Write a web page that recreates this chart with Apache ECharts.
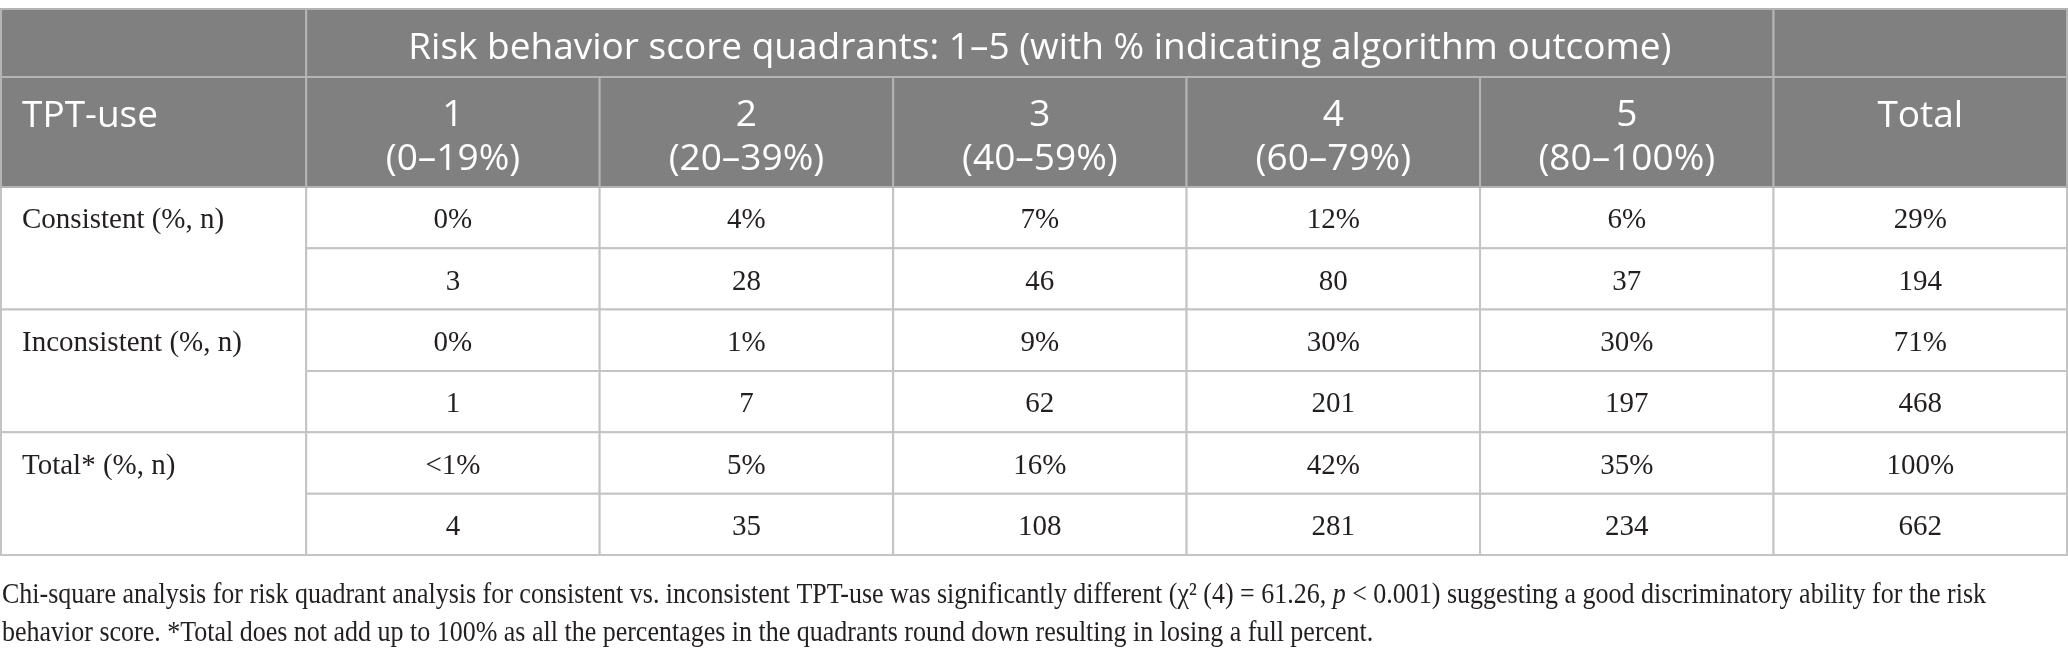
<!DOCTYPE html>
<html>
<head>
<meta charset="utf-8">
<script src="https://cdn.jsdelivr.net/npm/echarts@6/dist/echarts.min.js"></script>
<style>
    html, body { margin: 0; padding: 0; background: #fff; }
    #table_chart { width: 2068px; height: 652px; }
</style>
</head>
<body>
<div id="table_chart"></div>
<script>
// table content
var headerTitle = 'Risk behavior score quadrants: 1–5 (with % indicating algorithm outcome)';
var firstHeader = 'TPT-use';
var totalHeader = 'Total';
var quadrants = ['1', '2', '3', '4', '5'];
var quadrantRanges = ['(0–19%)', '(20–39%)', '(40–59%)', '(60–79%)', '(80–100%)'];
var groups = ['Consistent (%, n)', 'Inconsistent (%, n)', 'Total* (%, n)'];
var consistentPct = ['0%', '4%', '7%', '12%', '6%', '29%'];
var consistentN = ['3', '28', '46', '80', '37', '194'];
var inconsistentPct = ['0%', '1%', '9%', '30%', '30%', '71%'];
var inconsistentN = ['1', '7', '62', '201', '197', '468'];
var totalPct = ['<1%', '5%', '16%', '42%', '35%', '100%'];
var totalN = ['4', '35', '108', '281', '234', '662'];
var footnoteLines = [
    'Chi-square analysis for risk quadrant analysis for consistent vs. inconsistent TPT-use was significantly different (χ² (4) = 61.26, {i|p} < 0.001) suggesting a good discriminatory ability for the risk',
    'behavior score. *Total does not add up to 100% as all the percentages in the quadrants round down resulting in losing a full percent.'
];

// layout: column / row edges in table units
var colEdges = [0, 1.04, 2.04, 3.04, 4.04, 5.04, 6.04, 7.04];
var rowEdges = [0, 1.11, 2.9, 3.9, 4.9, 5.9, 6.9, 7.9, 8.9];

$ready();
function $ready() {
    var myChart = echarts.init(document.getElementById('table_chart'));

    // build cell list: [col, row, colspan, rowspan, index]
    var cellText = [], cellKind = [], cells = [];
    function addCell(c, r, cs, rs, text, kind) {
        cells.push([c, r, cs, rs, cells.length]);
        cellText.push(text);
        cellKind.push(kind);
    }
    var bodyRows = [
        [groups[0], consistentPct, consistentN],
        [groups[1], inconsistentPct, inconsistentN],
        [groups[2], totalPct, totalN]
    ];
    bodyRows.forEach(function (g, gi) {
        var r = 2 + gi * 2;
        addCell(0, r, 1, 2, g[0], 'label');
        for (var c = 0; c < 6; c++) {
            addCell(c + 1, r, 1, 1, g[1][c], 'cell');
            addCell(c + 1, r + 1, 1, 1, g[2][c], 'cell');
        }
    });
    addCell(0, 0, 1, 1, '', 'head');
    addCell(1, 0, 5, 1, headerTitle, 'head');
    addCell(6, 0, 1, 1, '', 'head');
    addCell(0, 1, 1, 1, firstHeader, 'headLeft');
    quadrants.forEach(function (q, i) {
        addCell(i + 1, 1, 1, 1, q + '\n' + quadrantRanges[i], 'head');
    });
    addCell(6, 1, 1, 1, totalHeader, 'headTop');

    function renderCell(params, api) {
        var c = api.value(0), r = api.value(1), cs = api.value(2), rs = api.value(3), idx = api.value(4);
        var p0 = api.coord([colEdges[c], rowEdges[r]]);
        var p1 = api.coord([colEdges[c + cs], rowEdges[r + rs]]);
        var kind = cellKind[idx];
        var isHead = kind.indexOf('head') === 0;
        var children = [{
            type: 'rect',
            shape: { x: p0[0], y: p0[1], width: p1[0] - p0[0], height: p1[1] - p0[1] },
            style: { fill: isHead ? '#808080' : '#ffffff', stroke: isHead ? '#b4b4b4' : '#c4c4c4', lineWidth: 2 }
        }];
        var text = cellText[idx];
        if (text) {
            var style = {
                text: text,
                fill: isHead ? '#ffffff' : '#231f20',
                fontFamily: isHead ? 'Open Sans' : 'Liberation Serif',
                fontSize: isHead ? 37 : 29,
                lineHeight: 44,
                align: 'center',
                verticalAlign: 'middle',
                x: (p0[0] + p1[0]) / 2,
                y: (p0[1] + p1[1]) / 2 + (isHead ? 5 : 3)
            };
            if (kind === 'headLeft' || kind === 'headTop') {
                style.y = p0[1] + 39;
            }
            if (kind === 'headLeft' || kind === 'label') {
                style.align = 'left';
                style.x = p0[0] + 21;
            }
            if (kind === 'label') {
                style.y = api.coord([0, rowEdges[r] + 0.5])[1] + 3;
            }
            children.push({ type: 'text', style: style });
        }
        return { type: 'group', children: children };
    }

    // footnote: condensed serif, fitted to the table width
    var ctx = document.createElement('canvas').getContext('2d');
    ctx.font = '30px "Liberation Serif"';
    var plain = footnoteLines[0].replace('{i|p}', 'p');
    var noteScale = 1984 / ctx.measureText(plain).width;
    var noteY = [595, 633];

    option = {
        animation: false,
        grid: { left: 1, right: 1, top: 9, height: 546 },
        xAxis: { type: 'value', min: 0, max: 7.04, show: false },
        yAxis: { type: 'value', min: 0, max: 8.9, inverse: true, show: false },
        series: [{
            type: 'custom',
            clip: false,
            renderItem: renderCell,
            encode: { x: 0, y: 1 },
            data: cells
        }],
        graphic: footnoteLines.map(function (line, i) {
            return {
                type: 'text',
                x: 2,
                y: noteY[i],
                scaleX: noteScale,
                style: {
                    text: line,
                    fill: '#231f20',
                    fontFamily: 'Liberation Serif',
                    fontSize: 30,
                    verticalAlign: 'middle',
                    rich: { i: { fontStyle: 'italic', fontFamily: 'Liberation Serif', fontSize: 30 } }
                }
            };
        })
    };
    myChart.setOption(option);
}
</script>
</body>
</html>
